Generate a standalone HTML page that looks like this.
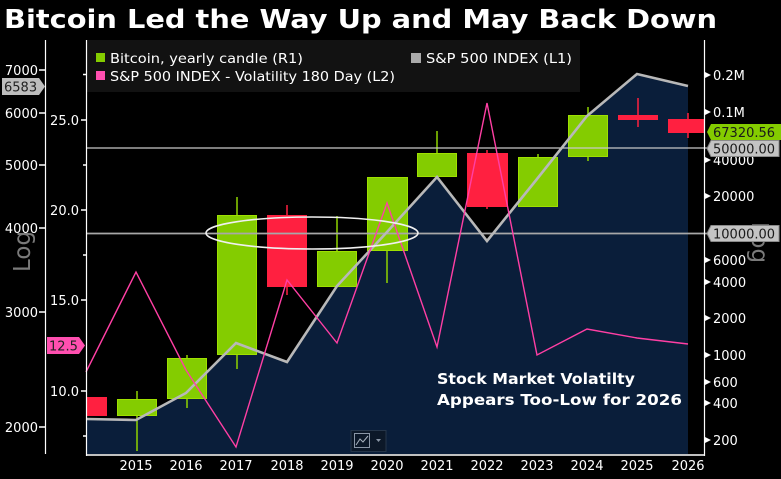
<!DOCTYPE html>
<html><head><meta charset="utf-8"><style>
html,body{margin:0;padding:0;background:#000;}
svg{display:block;}
text{font-family:"DejaVu Sans","Liberation Sans",sans-serif;}
</style></head><body>
<svg width="781" height="479" viewBox="0 0 781 479" xmlns="http://www.w3.org/2000/svg">
<rect x="0" y="0" width="781" height="479" fill="#000"/>
<!-- title -->
<text x="4" y="28" font-size="26" font-weight="bold" fill="#fff" textLength="713" lengthAdjust="spacingAndGlyphs">Bitcoin Led the Way Up and May Back Down</text>

<!-- navy area -->
<polygon fill="#0a1e3a" points="86,454 86,419 136,420 186,393 236,343 287,362 337,286 387,232 437,177 487,241 537,179 587,116 637,74 688,86 688,454"/>

<!-- legend -->
<rect x="86" y="40" width="494" height="52" fill="#121212"/>
<rect x="96" y="53" width="9" height="9" fill="#84cc00"/>
<text x="110" y="63" font-size="13.5" fill="#fff" textLength="193" lengthAdjust="spacingAndGlyphs">Bitcoin, yearly candle (R1)</text>
<rect x="96" y="71" width="9" height="9" fill="#ff4fb0"/>
<text x="110" y="81" font-size="13.5" fill="#fff" textLength="285" lengthAdjust="spacingAndGlyphs">S&amp;P 500 INDEX - Volatility 180 Day (L2)</text>
<rect x="411" y="53" width="10" height="10" fill="#aaaaaa"/>
<text x="426" y="63" font-size="13.5" fill="#fff" textLength="146" lengthAdjust="spacingAndGlyphs">S&amp;P 500 INDEX  (L1)</text>

<!-- candles -->
<g stroke-width="1.5">
<rect x="86" y="397" width="21" height="19" fill="#ff2040"/>
<line x1="137" y1="391" x2="137" y2="451" stroke="#8fd400"/>
<rect x="117.5" y="399.5" width="39" height="16" fill="#84cc00" stroke="#9ee000" stroke-width="1"/>
<line x1="187" y1="355" x2="187" y2="408" stroke="#8fd400"/>
<rect x="167.5" y="358.5" width="39" height="40" fill="#84cc00" stroke="#9ee000" stroke-width="1"/>
<line x1="237" y1="197" x2="237" y2="369" stroke="#8fd400"/>
<rect x="217.5" y="215.5" width="39" height="139" fill="#84cc00" stroke="#9ee000" stroke-width="1"/>
<line x1="287" y1="205" x2="287" y2="295" stroke="#ff2040"/>
<rect x="267" y="215" width="40" height="72" fill="#ff2040"/>
<line x1="337" y1="216" x2="337" y2="251" stroke="#8fd400"/>
<rect x="317.5" y="251.5" width="39" height="35" fill="#84cc00" stroke="#9ee000" stroke-width="1"/>
<line x1="387" y1="251" x2="387" y2="283" stroke="#8fd400"/>
<rect x="367.5" y="177.5" width="40" height="73" fill="#84cc00" stroke="#9ee000" stroke-width="1"/>
<line x1="437" y1="131" x2="437" y2="153" stroke="#8fd400"/>
<rect x="417.5" y="153.5" width="39" height="23" fill="#84cc00" stroke="#9ee000" stroke-width="1"/>
<line x1="487" y1="150" x2="487" y2="209" stroke="#ff2040"/>
<rect x="467" y="153" width="41" height="54" fill="#ff2040"/>
<line x1="538" y1="154" x2="538" y2="157" stroke="#8fd400"/>
<rect x="518.5" y="157.5" width="39" height="49" fill="#84cc00" stroke="#9ee000" stroke-width="1"/>
<line x1="588" y1="107" x2="588" y2="161" stroke="#8fd400"/>
<rect x="568.5" y="115.5" width="39" height="41" fill="#84cc00" stroke="#9ee000" stroke-width="1"/>
<line x1="638" y1="98" x2="638" y2="127" stroke="#ff2040"/>
<rect x="618" y="115" width="40" height="5" fill="#ff2040"/>
<line x1="688" y1="113" x2="688" y2="138" stroke="#ff2040"/>
<rect x="668" y="119" width="36" height="14" fill="#ff2040"/>
</g>

<!-- horizontal lines -->
<line x1="86" y1="148" x2="707" y2="148" stroke="#c8c8c8" stroke-width="1.3"/>
<line x1="86" y1="233.5" x2="707" y2="233.5" stroke="#a8a8a8" stroke-width="1.8"/>

<!-- S&P line -->
<polyline fill="none" stroke="#b8b8b8" stroke-width="2.6" stroke-linejoin="miter" points="86,419 136,420 186,393 236,343 287,362 337,286 387,232 437,177 487,241 537,179 587,116 637,74 688,86"/>

<!-- Volatility line -->
<polyline fill="none" stroke="#ff3fa4" stroke-width="1.4" points="86,372 136,272 186,370 236,447 287,280 337,343 387,203 437,347 487,103 537,355 587,329 637,338 688,344"/>

<!-- ellipse -->
<ellipse cx="312" cy="233" rx="106" ry="16" fill="none" stroke="#f0f0f0" stroke-width="1.6"/>

<!-- annotation -->
<text x="437" y="384" font-size="15" font-weight="bold" fill="#fff" textLength="198" lengthAdjust="spacingAndGlyphs">Stock Market Volatilty</text>
<text x="437" y="405" font-size="15" font-weight="bold" fill="#fff" textLength="245" lengthAdjust="spacingAndGlyphs">Appears Too-Low for 2026</text>

<!-- icon -->
<rect x="351" y="430.5" width="35" height="21" fill="#0c1828" stroke="#26364a" stroke-width="1"/>
<rect x="354.5" y="433.5" width="15" height="14" fill="none" stroke="#8a96a6" stroke-width="1"/>
<polyline points="356,445 360,439 363,442 368,436" fill="none" stroke="#aab4c0" stroke-width="1"/>
<polygon points="376,439 381,439 378.5,442" fill="#8a96a6"/>

<!-- axes lines -->
<line x1="45.5" y1="40" x2="45.5" y2="454" stroke="#fff" stroke-width="1.2"/>
<line x1="86.5" y1="40" x2="86.5" y2="456" stroke="#fff" stroke-width="1.2"/>
<line x1="86" y1="455" x2="705" y2="455" stroke="#fff" stroke-width="1.5"/>
<line x1="704.5" y1="40" x2="704.5" y2="456" stroke="#fff" stroke-width="1.2"/>

<!-- Log labels -->
<text transform="translate(30,272) rotate(-90)" font-size="23" fill="#7a7a7a">Log</text>
<text transform="translate(752,222) rotate(90)" font-size="23" fill="#7a7a7a">Log</text>

<!-- left outer axis L1 -->
<g fill="#fff" font-size="13" text-anchor="end">
<text x="38" y="75">7000</text>
<text x="38" y="118">6000</text>
<text x="38" y="170">5000</text>
<text x="38" y="233">4000</text>
<text x="38" y="317">3000</text>
<text x="38" y="432">2000</text>
</g>
<g stroke="#fff" stroke-width="1.5">
<line x1="39" y1="70" x2="45" y2="70"/>
<line x1="39" y1="113" x2="45" y2="113"/>
<line x1="39" y1="165" x2="45" y2="165"/>
<line x1="39" y1="228" x2="45" y2="228"/>
<line x1="39" y1="312" x2="45" y2="312"/>
<line x1="39" y1="427" x2="45" y2="427"/>
</g>

<!-- inner axis L2 -->
<g fill="#fff" font-size="13" text-anchor="end">
<text x="79" y="125">25.0</text>
<text x="79" y="215">20.0</text>
<text x="79" y="305">15.0</text>
<text x="79" y="396">10.0</text>
</g>
<g stroke="#fff" stroke-width="1.5">
<line x1="81" y1="120" x2="86" y2="120"/>
<line x1="81" y1="210" x2="86" y2="210"/>
<line x1="81" y1="300" x2="86" y2="300"/>
<line x1="81" y1="391" x2="86" y2="391"/>
<line x1="83" y1="74.5" x2="86" y2="74.5"/>
<line x1="83" y1="165" x2="86" y2="165"/>
<line x1="83" y1="255" x2="86" y2="255"/>
<line x1="83" y1="436" x2="86" y2="436"/>
</g>

<!-- 6583 label -->
<polygon points="2,78 39,78 45,86.5 39,95 2,95" fill="#bdbdbd"/>
<text x="4" y="91.5" font-size="13" fill="#222">6583</text>
<!-- 12.5 label -->
<polygon points="47,337 79,337 85,345.5 79,354 47,354" fill="#ff4fb0"/>
<text x="49" y="350.5" font-size="13" fill="#222">12.5</text>

<!-- right axis -->
<g fill="#fff">
<polygon points="705,72 711,75 705,78"/>
<polygon points="705,109 711,112 705,115"/>
<polygon points="705,157 711,160 705,163"/>
<polygon points="705,193 711,196 705,199"/>
<polygon points="705,257 711,260 705,263"/>
<polygon points="705,279 711,282 705,285"/>
<polygon points="705,315 711,318 705,321"/>
<polygon points="705,352 711,355 705,358"/>
<polygon points="705,379 711,382 705,385"/>
<polygon points="705,400 711,403 705,406"/>
<polygon points="705,437 711,440 705,443"/>
</g>
<g fill="#fff" font-size="13">
<text x="713" y="80">0.2M</text>
<text x="713" y="117">0.1M</text>
<text x="713" y="165">40000</text>
<text x="713" y="201">20000</text>
<text x="713" y="265">6000</text>
<text x="713" y="287">4000</text>
<text x="713" y="323">2000</text>
<text x="713" y="360">1000</text>
<text x="713" y="387">600</text>
<text x="713" y="408">400</text>
<text x="713" y="445">200</text>
</g>

<!-- right value labels -->
<polygon points="707,132 711,124 781,124 781,140 711,140" fill="#84cc00"/>
<text x="713" y="137" font-size="13" fill="#1a1a1a">67320.56</text>
<polygon points="707,148.5 711,140.5 779,140.5 779,156.5 711,156.5" fill="#c4c4c4" stroke="#8a8a8a" stroke-width="1"/>
<text x="713" y="153.5" font-size="13" fill="#1a1a1a">50000.00</text>
<polygon points="707,233.5 711,225.5 779,225.5 779,241.5 711,241.5" fill="#c4c4c4" stroke="#8a8a8a" stroke-width="1"/>
<text x="713" y="238.5" font-size="13" fill="#1a1a1a">10000.00</text>

<!-- x axis labels -->
<g fill="#fff" font-size="13" text-anchor="middle">
<text x="136" y="470">2015</text>
<text x="186" y="470">2016</text>
<text x="236" y="470">2017</text>
<text x="287" y="470">2018</text>
<text x="337" y="470">2019</text>
<text x="387" y="470">2020</text>
<text x="437" y="470">2021</text>
<text x="487" y="470">2022</text>
<text x="537" y="470">2023</text>
<text x="587" y="470">2024</text>
<text x="637" y="470">2025</text>
<text x="688" y="470">2026</text>
</g>
</svg>
</body></html>
